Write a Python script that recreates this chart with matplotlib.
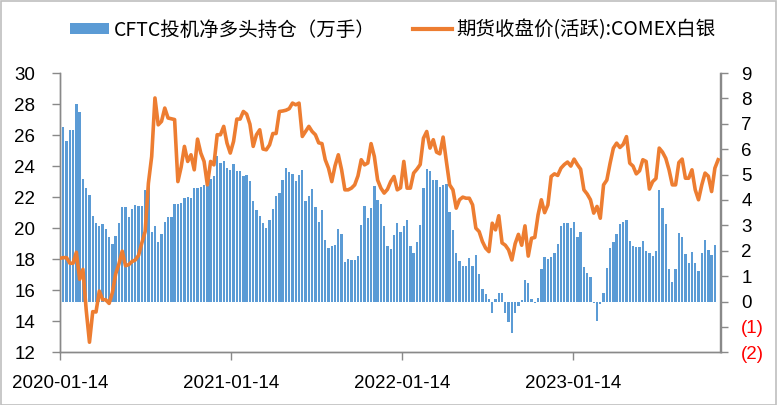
import matplotlib
matplotlib.use('Agg')
import matplotlib.pyplot as plt
from matplotlib.patches import Patch, Rectangle
from matplotlib.lines import Line2D
import pandas as pd

# --- dane (tygodniowe, od 2020-01-14) ---
START = '2020-01-14'
TICK_DATES = ['2020-01-14', '2021-01-14', '2022-01-14', '2023-01-14']
BAR_LABEL = 'CFTC投机净多头持仓（万手）'
LINE_LABEL = '期货收盘价(活跃):COMEX白银'

# CFTC net long, 10k contracts (right axis)
net_long = [
    6.74, 6.89, 6.33, 6.75, 6.75, 7.78, 7.47, 4.83, 4.48, 4.20,
    3.38, 3.10, 2.98, 3.06, 2.86, 2.56, 2.27, 2.60, 3.10, 3.73,
    3.73, 3.34, 3.65, 3.81, 3.77, 3.77, 4.40, 4.72, 2.75, 2.98,
    2.35, 2.66, 3.13, 3.34, 3.34, 3.84, 3.84, 3.88, 4.09, 4.11,
    4.09, 4.48, 4.48, 4.50, 4.60, 4.54, 4.83, 4.95, 5.74, 5.46,
    5.54, 5.27, 5.19, 5.42, 5.15, 5.15, 4.95, 4.98, 4.75, 3.96,
    3.61, 3.38, 3.10, 2.90, 3.21, 3.65, 4.16, 4.28, 4.80, 5.27,
    5.11, 5.03, 4.75, 4.99, 5.19, 3.96, 4.16, 4.43, 3.73, 3.13,
    3.61, 2.42, 2.11, 2.19, 2.23, 2.86, 2.66, 1.56, 1.68, 1.64,
    1.64, 1.79, 3.02, 3.77, 3.29, 3.69, 4.56, 4.01, 3.85, 2.98,
    2.19, 2.07, 2.63, 3.10, 2.74, 2.98, 3.21, 2.19, 1.91, 2.35,
    3.02, 4.48, 5.23, 5.15, 4.80, 4.80, 4.51, 4.60, 4.63, 3.52,
    2.81, 1.90, 1.59, 1.39, 1.39, 1.71, 1.39, 1.83, 1.08, 0.49,
    0.29, 0.10, -0.45, 0.10, 0.33, 0.33, -0.45, -0.82, -1.25, -0.45,
    -0.17, 0.05, 0.84, 0.72, 0.10, -0.05, 0.15, 1.27, 1.76, 1.67,
    1.76, 1.92, 2.26, 2.98, 3.09, 3.09, 2.89, 3.12, 2.55, 2.73,
    1.35, 1.13, 0.96, -0.05, -0.76, -0.10, 0.33, 1.33, 2.10, 2.35,
    2.65, 3.07, 3.15, 3.20, 2.37, 2.17, 2.13, 2.13, 2.40, 1.97,
    1.92, 1.80, 2.00, 4.39, 3.69, 3.07, 1.30, 0.77, 1.28, 2.68,
    2.55, 1.87, 1.52, 1.96, 1.52, 1.20, 1.92, 2.41, 2.02, 1.83,
    2.22,
]

# COMEX silver close (left axis)
price = [
    18.06, 18.10, 18.10, 17.74, 17.74, 18.45, 16.70, 17.35, 14.73, 12.65,
    14.62, 14.60, 15.95, 15.40, 15.38, 15.15, 15.85, 17.05, 17.70, 18.52,
    17.58, 17.65, 17.85, 17.95, 18.25, 19.05, 19.78, 22.90, 24.62, 28.39,
    26.66, 26.88, 27.74, 27.10, 27.05, 27.00, 23.00, 23.94, 25.27, 24.30,
    24.73, 23.76, 25.74, 24.84, 24.30, 22.79, 24.30, 24.08, 26.02, 26.02,
    26.56, 25.48, 24.84, 25.59, 27.03, 27.03, 27.52, 27.35, 26.70, 25.27,
    26.02, 26.34, 25.10, 25.05, 25.37, 26.10, 26.10, 27.52, 27.55, 27.60,
    27.70, 28.06, 27.95, 28.06, 25.91, 26.23, 26.56, 26.23, 26.02, 25.50,
    25.45, 24.41, 23.87, 23.00, 24.02, 24.73, 23.76, 22.47, 22.47, 22.58,
    22.79, 23.37, 24.41, 24.08, 24.20, 25.45, 24.62, 23.10, 22.58, 22.26,
    22.50, 23.00, 23.33, 22.47, 22.60, 24.30, 22.58, 22.58, 23.55, 23.80,
    24.10, 25.80, 26.23, 25.16, 25.70, 24.90, 24.79, 25.87, 24.30, 22.79,
    22.47, 21.29, 21.83, 22.00, 21.93, 21.93, 21.50, 20.00, 19.78, 19.14,
    18.71, 18.49, 20.32, 19.89,
    20.80, 19.05, 18.90, 18.60, 17.95, 19.00, 19.60, 18.90, 20.15, 18.20,
    19.35, 19.40, 20.86, 21.83, 21.00, 21.50, 23.33, 23.50, 23.40, 23.87,
    24.10, 24.26, 24.00, 24.45, 24.10, 23.80, 22.47, 22.20, 21.83, 20.97,
    21.40, 20.64, 22.79, 23.10, 24.19, 25.16, 25.48, 25.20, 25.40, 25.90,
    24.19, 24.00, 23.50, 23.70, 24.41, 24.30, 22.52, 23.00, 23.20, 25.16,
    24.90, 24.50, 23.76, 22.79, 22.79, 24.23, 24.45, 23.22, 23.22, 23.76,
    22.47, 21.83, 22.79, 23.55, 23.35, 22.36, 23.87, 24.41,
]

BLUE = '#5B9BD5'
ORANGE = '#ED7D31'
AXIS_GRAY = '#898989'

plt.rcParams['font.family'] = ['Liberation Sans', 'DejaVu Sans']

dates = pd.date_range(START, periods=len(price), freq='7D')

W, H = 777, 405
fig = plt.figure(figsize=(W / 100, H / 100), dpi=100)
ax = fig.add_axes([60 / W, (H - 352.3) / H, 660.5 / W, 279.3 / H])
ax2 = ax.twinx()

# slupki na osi prawej, linia na lewej (nad slupkami)
ax2.bar(dates[:len(net_long)], net_long, width=5, color=BLUE, zorder=2)
ax.plot(dates, price, color=ORANGE, lw=2.6, solid_joinstyle='round', zorder=3)
ax.set_zorder(ax2.get_zorder() + 1)
ax.patch.set_visible(False)

ax.set_xlim(pd.Timestamp(START), pd.Timestamp(START) + pd.Timedelta(days=1412))
ax.set_xticks(pd.to_datetime(TICK_DATES))
ax.set_xticklabels(TICK_DATES)

ax.set_ylim(12, 30)
ax.set_yticks(range(12, 31, 2))
ax2.set_ylim(-2, 9)
right_ticks = list(range(-2, 10))
ax2.set_yticks(right_ticks)
ax2.set_yticklabels(['(%d)' % -v if v < 0 else str(v) for v in right_ticks])
for lab, v in zip(ax2.get_yticklabels(), right_ticks):
    if v < 0:
        lab.set_color('red')

for a in (ax, ax2):
    a.spines['top'].set_visible(False)
    for s in ('left', 'right', 'bottom'):
        a.spines[s].set_color(AXIS_GRAY)
        a.spines[s].set_linewidth(1.0)

ax.tick_params(axis='y', direction='out', length=6, width=1, color=AXIS_GRAY,
               pad=12, labelsize=13.5, labelcolor='black')
ax.tick_params(axis='x', direction='out', length=6, width=1, color=AXIS_GRAY,
               pad=10, labelsize=13.5, labelcolor='black')
ax2.tick_params(axis='y', direction='out', length=6, width=1, color=AXIS_GRAY,
                pad=9, labelsize=13.5)

handles = [Patch(facecolor=BLUE, label=BAR_LABEL),
           Line2D([], [], color=ORANGE, lw=3, label=LINE_LABEL)]
fig.legend(handles=handles, loc='center', bbox_to_anchor=(393 / W, 1 - 30 / H),
           ncol=2, frameon=False, handlelength=2.0, handleheight=0.55,
           handletextpad=0.25, columnspacing=1.9,
           prop={'family': ['Noto Sans CJK SC', 'DejaVu Sans'], 'size': 14})

# ramka wykresu
fig.patches.append(Rectangle((0.5 / W, 0.5 / H), 1 - 1.5 / W, 1 - 1.5 / H,
                             transform=fig.transFigure, fill=False,
                             edgecolor='#BFBFBF', lw=1.2))

fig.savefig('out.png', dpi=100)
